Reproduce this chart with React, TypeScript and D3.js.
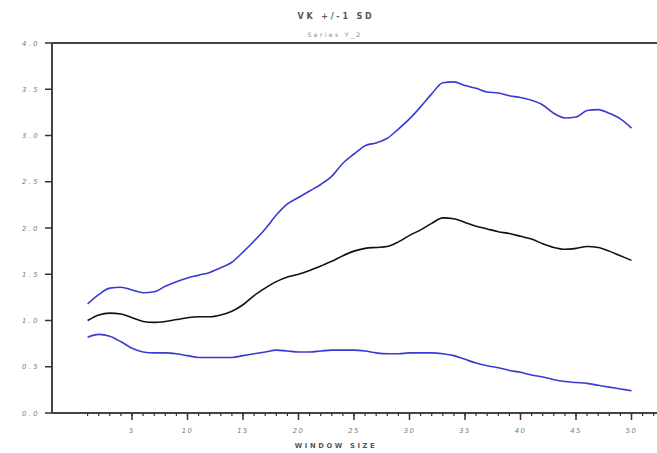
import React from "react";
import * as d3 from "d3";

// Window sizes 1..50
const windowSizes: number[] = d3.range(1, 51);

// Mean VK per window size
const meanVK: number[] = [
  1.0, 1.06, 1.08, 1.07, 1.03, 0.99, 0.98, 0.99, 1.01, 1.03,
  1.04, 1.04, 1.06, 1.1, 1.17, 1.27, 1.35, 1.42, 1.47, 1.5,
  1.54, 1.59, 1.64, 1.7, 1.75, 1.78, 1.79, 1.8, 1.85, 1.92,
  1.98, 2.05, 2.11, 2.1, 2.06, 2.02, 1.99, 1.96, 1.94, 1.91,
  1.88, 1.83, 1.79, 1.77, 1.78, 1.8, 1.79, 1.75, 1.7, 1.65,
];

// Mean + 1 SD
const upperVK: number[] = [
  1.18, 1.28, 1.35, 1.36, 1.33, 1.3, 1.31, 1.37, 1.42, 1.46,
  1.49, 1.52, 1.57, 1.63, 1.74, 1.86, 1.99, 2.14, 2.26, 2.33,
  2.4, 2.47, 2.56, 2.7, 2.8, 2.89, 2.92, 2.97, 3.07, 3.18,
  3.31, 3.45, 3.57, 3.58, 3.54, 3.51, 3.47, 3.46, 3.43, 3.41,
  3.38, 3.33, 3.24, 3.19, 3.2, 3.27, 3.28, 3.24, 3.18, 3.08,
];

// Mean - 1 SD
const lowerVK: number[] = [
  0.82, 0.85, 0.83, 0.77, 0.7, 0.66, 0.65, 0.65, 0.64, 0.62,
  0.6, 0.6, 0.6, 0.6, 0.62, 0.64, 0.66, 0.68, 0.67, 0.66,
  0.66, 0.67, 0.68, 0.68, 0.68, 0.67, 0.65, 0.64, 0.64, 0.65,
  0.65, 0.65, 0.64, 0.62, 0.58, 0.54, 0.51, 0.49, 0.46, 0.44,
  0.41, 0.39, 0.36, 0.34, 0.33, 0.32, 0.3, 0.28, 0.26, 0.24,
];

const yTicks: number[] = [0, 0.5, 1, 1.5, 2, 2.5, 3, 3.5, 4];
const xMajorTicks: number[] = [5, 10, 15, 20, 25, 30, 35, 40, 45, 50];
const xMinorTicks: number[] = d3.range(1, 53);

const W = 657;
const H = 453;
const axisLeft = 52;
const axisRight = 657;
const plotTop = 43;
const plotBottom = 413;

export default function App() {
  const x = d3.scaleLinear().domain([0, 50]).range([76.5, 631.5]);
  const y = d3.scaleLinear().domain([0, 4]).range([plotBottom, plotTop]);

  const line = d3
    .line<number>()
    .x((_, i) => x(windowSizes[i]))
    .y((d) => y(d))
    .curve(d3.curveMonotoneX);

  const textFill = "#777";
  const font = "'DejaVu Sans', sans-serif";

  return (
    <svg
      width={W}
      height={H}
      style={{ position: "absolute", left: 0, top: 0, background: "#fff" }}
      fontFamily={font}
    >
      {/* titles */}
      <text x={336} y={19} textAnchor="middle" fontSize={8} fontWeight="bold" fill="#555" letterSpacing={2.8}>
        VK +/-1 SD
      </text>
      <text x={335} y={37} textAnchor="middle" fontSize={6.2} fill="#888" letterSpacing={2.3}>
        Series Y_2
      </text>

      {/* frame lines */}
      <line x1={axisLeft} x2={axisRight} y1={plotTop} y2={plotTop} stroke="#444" strokeWidth={2} />
      <line x1={axisLeft} x2={axisRight} y1={plotBottom} y2={plotBottom} stroke="#444" strokeWidth={2} />
      <line x1={axisLeft} x2={axisLeft} y1={plotTop} y2={plotBottom} stroke="#444" strokeWidth={2} />

      {/* y axis ticks */}
      {yTicks.map((t) => (
        <g key={`y${t}`}>
          <line x1={axisLeft - 7} x2={axisLeft} y1={y(t)} y2={y(t)} stroke="#333" strokeWidth={1.5} />
          <text x={40} y={y(t) + 2.5} textAnchor="end" fontSize={6.8} fill={textFill} letterSpacing={2.4} fontStyle="italic">
            {t.toFixed(1)}
          </text>
        </g>
      ))}

      {/* x axis ticks */}
      {xMinorTicks.map((t) => (
        <line key={`xm${t}`} x1={x(t)} x2={x(t)} y1={plotBottom} y2={plotBottom + 3} stroke="#333" strokeWidth={1.2} />
      ))}
      {xMajorTicks.map((t) => (
        <g key={`x${t}`}>
          <line x1={x(t)} x2={x(t)} y1={plotBottom} y2={plotBottom + 7} stroke="#333" strokeWidth={1.5} />
          <text x={x(t)} y={433} textAnchor="middle" fontSize={6.8} fill={textFill} letterSpacing={1.5} fontStyle="italic">
            {t}
          </text>
        </g>
      ))}
      <text x={336} y={448} textAnchor="middle" fontSize={6.8} fontWeight="bold" fill="#555" letterSpacing={2.6}>
        WINDOW SIZE
      </text>

      {/* series */}
      <path d={line(upperVK) ?? ""} fill="none" stroke="#3a3ad0" strokeWidth={1.6} />
      <path d={line(meanVK) ?? ""} fill="none" stroke="#111" strokeWidth={1.6} />
      <path d={line(lowerVK) ?? ""} fill="none" stroke="#3a3ad0" strokeWidth={1.6} />
    </svg>
  );
}
